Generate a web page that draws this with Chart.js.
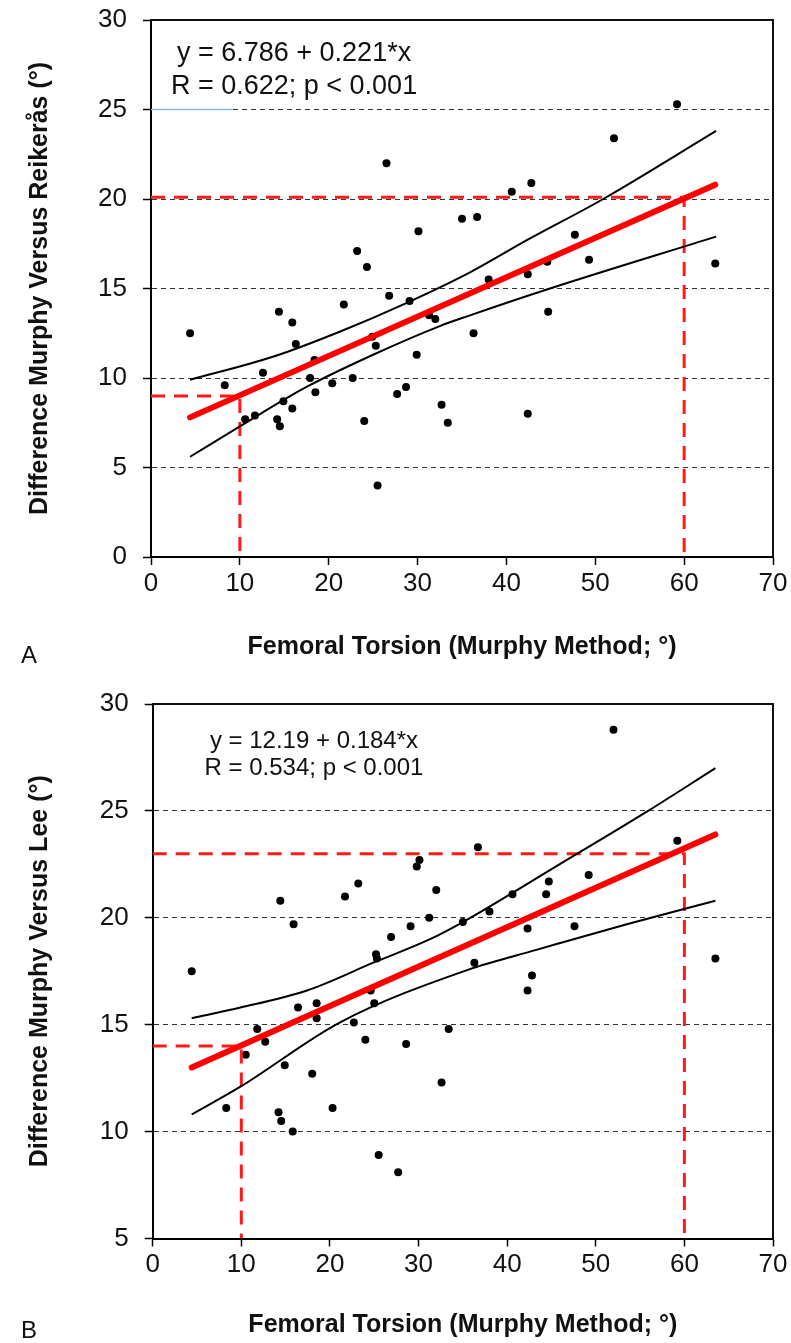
<!DOCTYPE html>
<html>
<head>
<meta charset="utf-8">
<script src="https://cdn.jsdelivr.net/npm/chart.js@4.4.1/dist/chart.umd.min.js"></script>
<style>
body{margin:0;background:#fff;width:791px;height:1343px;position:relative;overflow:hidden;font-family:"Liberation Sans",Arial,sans-serif}
#boxA{position:absolute;left:0;top:0;width:791px;height:665px}
#boxB{position:absolute;left:0;top:665px;width:791px;height:678px}
.tag{position:absolute;left:21px;font-size:24px;color:#111;line-height:28px}
</style>
</head>
<body>
<div id="boxA"><canvas id="relA" width="791" height="665"></canvas></div>
<div id="boxB"><canvas id="relB" width="791" height="678"></canvas></div>
<div class="tag" style="top:641px">A</div>
<div class="tag" style="top:1316px">B</div>
<script>
// Painel A: Murphy x Reikerås
var xA = [4.4, 8.3, 10.6, 11.7, 12.6, 14.2, 14.5, 14.4, 14.9, 15.9, 15.9, 16.3, 17.9, 18.4, 18.5, 20.4, 21.7, 22.7, 23.2, 24.0, 24.3, 24.9, 25.3, 25.5, 26.5, 26.8, 27.7, 28.7, 29.1, 29.9, 30.1, 31.3, 32.0, 32.7, 33.4, 35.0, 36.3, 36.7, 38.0, 40.6, 42.4, 42.4, 42.8, 44.6, 44.7, 47.7, 49.3, 52.1, 59.2, 63.5];
var yA = [12.5, 9.6, 7.7, 7.9, 10.3, 7.7, 7.3, 13.7, 8.7, 8.3, 13.1, 11.9, 10.0, 11.0, 9.2, 9.7, 14.1, 10.0, 17.1, 7.6, 16.2, 12.3, 11.8, 4.0, 22.0, 14.6, 9.1, 9.5, 14.3, 11.3, 18.2, 13.5, 13.3, 8.5, 7.5, 18.9, 12.5, 19.0, 15.5, 20.4, 15.8, 8.0, 20.9, 16.5, 13.7, 18.0, 16.6, 23.4, 25.3, 16.4];
var fitXA = [4.4, 63.5];
var fitYA = [7.8, 20.8];
var upXA = [4.4, 13.8, 21.3, 28.8, 35.9, 42.3, 50.9, 63.6];
var upYA = [9.9, 11.2, 12.6, 14.2, 15.9, 17.7, 20.0, 23.8];
var loXA = [4.4, 10.0, 17.5, 25.0, 32.5, 35.9, 44.9, 63.6];
var loYA = [5.6, 7.3, 9.5, 11.3, 12.9, 13.5, 15.0, 17.9];
var ref1XA = [0, 10, 10];
var ref1YA = [9, 9, 0];
var ref2XA = [0, 60, 60];
var ref2YA = [20.1, 20.1, 0];
var azulXA = [0, 9.2];
var azulYA = [25, 25];
var eqA = ['y = 6.786 + 0.221*x', 'R = 0.622; p < 0.001'];

// Painel B: Murphy x Lee
var xB = [4.4, 8.3, 10.5, 11.8, 12.7, 14.2, 14.4, 14.5, 14.9, 15.8, 15.9, 16.4, 18.0, 18.5, 18.5, 20.3, 21.7, 22.7, 23.2, 24.0, 24.6, 25.0, 25.2, 25.3, 25.5, 26.9, 27.7, 28.6, 29.1, 29.8, 30.1, 31.2, 32.0, 32.6, 33.4, 35.0, 36.3, 36.7, 38.0, 40.6, 42.3, 42.3, 42.8, 44.4, 44.7, 47.6, 49.2, 52.0, 59.2, 63.5];
var yB = [17.5, 11.1, 13.6, 14.8, 14.2, 10.9, 20.8, 10.5, 13.1, 10.0, 19.7, 15.8, 12.7, 16.0, 15.3, 11.1, 21.0, 15.1, 21.6, 14.3, 16.6, 16.0, 18.3, 18.1, 8.9, 19.1, 8.1, 14.1, 19.6, 22.4, 22.7, 20.0, 21.3, 12.3, 14.8, 19.8, 17.9, 23.3, 20.3, 21.1, 19.5, 16.6, 17.3, 21.1, 21.7, 19.6, 22.0, 28.8, 23.6, 18.1];
var fitXB = [4.4, 63.5];
var fitYB = [13.0, 23.9];
var upXB = [4.4, 9.9, 17.4, 24.9, 31.3, 35.0, 45.9, 55.9, 63.5];
var upYB = [15.3, 15.8, 16.6, 17.9, 19.0, 19.8, 22.5, 25.0, 27.0];
var loXB = [4.4, 9.9, 21.1, 35.8, 43.3, 53.5, 63.5];
var loYB = [10.8, 12.1, 15.1, 17.6, 18.5, 19.7, 20.8];
var ref1XB = [0, 10, 10];
var ref1YB = [14, 14, 5];
var ref2XB = [0, 60, 60];
var ref2YB = [23, 23, 5];
var eqB = ['y = 12.19 + 0.184*x', 'R = 0.534; p < 0.001'];

Chart.defaults.font.family = '"Liberation Sans", Arial, sans-serif';
Chart.defaults.color = '#111';

function pts(xs, ys) {
	return xs.map(function (x, i) { return {x: x, y: ys[i]}; });
}

// borda de cima e da direita
var moldura = {
	id: 'moldura',
	beforeDatasetsDraw: function (chart) {
		var a = chart.chartArea, c = chart.ctx;
		c.save();
		c.strokeStyle = '#111';
		c.lineWidth = 2;
		c.beginPath();
		c.moveTo(a.left, a.top);
		c.lineTo(a.right, a.top);
		c.lineTo(a.right, a.bottom);
		c.stroke();
		c.restore();
	}
};

// texto da equação
var equacao = {
	id: 'equacao',
	afterDraw: function (chart, args, o) {
		var c = chart.ctx;
		var px = chart.scales.x.getPixelForValue(o.x);
		var py = chart.scales.y.getPixelForValue(o.y);
		c.save();
		c.font = o.size + 'px "Liberation Sans", Arial, sans-serif';
		c.fillStyle = '#111';
		c.textAlign = 'center';
		c.textBaseline = 'middle';
		o.linhas.forEach(function (t, i) { c.fillText(t, px, py + i * o.gap); });
		c.restore();
	}
};

function grafico(id, d) {
	var sets = [
		{data: pts(d.fitX, d.fitY), showLine: true, borderColor: '#ff0000', borderWidth: 6, borderCapStyle: 'round', pointRadius: 0},
		{data: pts(d.upX, d.upY), showLine: true, borderColor: '#000', borderWidth: 2, cubicInterpolationMode: 'monotone', pointRadius: 0},
		{data: pts(d.loX, d.loY), showLine: true, borderColor: '#000', borderWidth: 2, cubicInterpolationMode: 'monotone', pointRadius: 0},
		{data: pts(d.r1X, d.r1Y), showLine: true, borderColor: '#ff1a1a', borderWidth: 3, borderDash: [14, 9], pointRadius: 0},
		{data: pts(d.r2X, d.r2Y), showLine: true, borderColor: '#ff1a1a', borderWidth: 3, borderDash: [14, 9], pointRadius: 0}
	];
	if (d.azX) {
		sets.push({data: pts(d.azX, d.azY), showLine: true, borderColor: '#8ab8e0', borderWidth: 1.5, pointRadius: 0});
	}
	sets.push({data: pts(d.px, d.py), pointRadius: 4, pointBackgroundColor: '#000', pointBorderWidth: 0});

	return new Chart(document.getElementById(id), {
		type: 'scatter',
		data: {datasets: sets},
		options: {
			responsive: false,
			animation: false,
			layout: {padding: {top: d.top, right: 18, left: 0, bottom: 0}},
			plugins: {
				legend: {display: false},
				tooltip: {enabled: false},
				equacao: {linhas: d.eq, x: d.eqX, y: d.eqY, gap: d.eqGap, size: d.eqSize}
			},
			scales: {
				x: {
					type: 'linear', min: 0, max: 70,
					afterFit: function (s) { s.height = d.xh; s.paddingLeft = 0; s.paddingRight = 0; },
					ticks: {stepSize: 10, padding: 3, color: '#111', font: {size: 26}, maxRotation: 0},
					grid: {drawOnChartArea: false, tickLength: 8, color: '#000', tickWidth: 1.5},
					border: {display: true, color: '#000', width: 2},
					title: {display: true, text: 'Femoral Torsion (Murphy Method; °)', color: '#111', font: {size: 25, weight: 'bold'}, padding: {top: 0, bottom: 3}}
				},
				y: {
					min: d.ymin, max: 30,
					afterFit: function (s) { s.width = d.yw; s.paddingTop = 0; s.paddingBottom = 0; },
					ticks: {stepSize: 5, padding: 16, color: '#111', font: {size: 26}},
					grid: {color: '#333', lineWidth: 1, tickLength: 8, tickColor: '#000', tickWidth: 1.5, tickBorderDash: []},
					border: {display: true, color: '#000', width: 2, dash: [5, 4]},
					title: {display: true, text: d.ytitle, color: '#111', font: {size: 25, weight: 'bold'}, padding: {top: 25, bottom: 0}}
				}
			}
		},
		plugins: [moldura, equacao]
	});
}

var relA = grafico('relA', {
	px: xA, py: yA, fitX: fitXA, fitY: fitYA, upX: upXA, upY: upYA, loX: loXA, loY: loYA,
	r1X: ref1XA, r1Y: ref1YA, r2X: ref2XA, r2Y: ref2YA, azX: azulXA, azY: azulYA,
	eq: eqA, eqX: 16.1, eqY: 28.15, eqGap: 33, eqSize: 27,
	ymin: 0, top: 20, xh: 108, yw: 151,
	ytitle: 'Difference Murphy Versus Reikerås (°)'
});

var relB = grafico('relB', {
	px: xB, py: yB, fitX: fitXB, fitY: fitYB, upX: upXB, upY: upYB, loX: loXB, loY: loYB,
	r1X: ref1XB, r1Y: ref1YB, r2X: ref2XB, r2Y: ref2YB,
	eq: eqB, eqX: 18.2, eqY: 28.26, eqGap: 27, eqSize: 24,
	ymin: 5, top: 39, xh: 104.5, yw: 152.7,
	ytitle: 'Difference Murphy Versus Lee (°)'
});
</script>
</body>
</html>
